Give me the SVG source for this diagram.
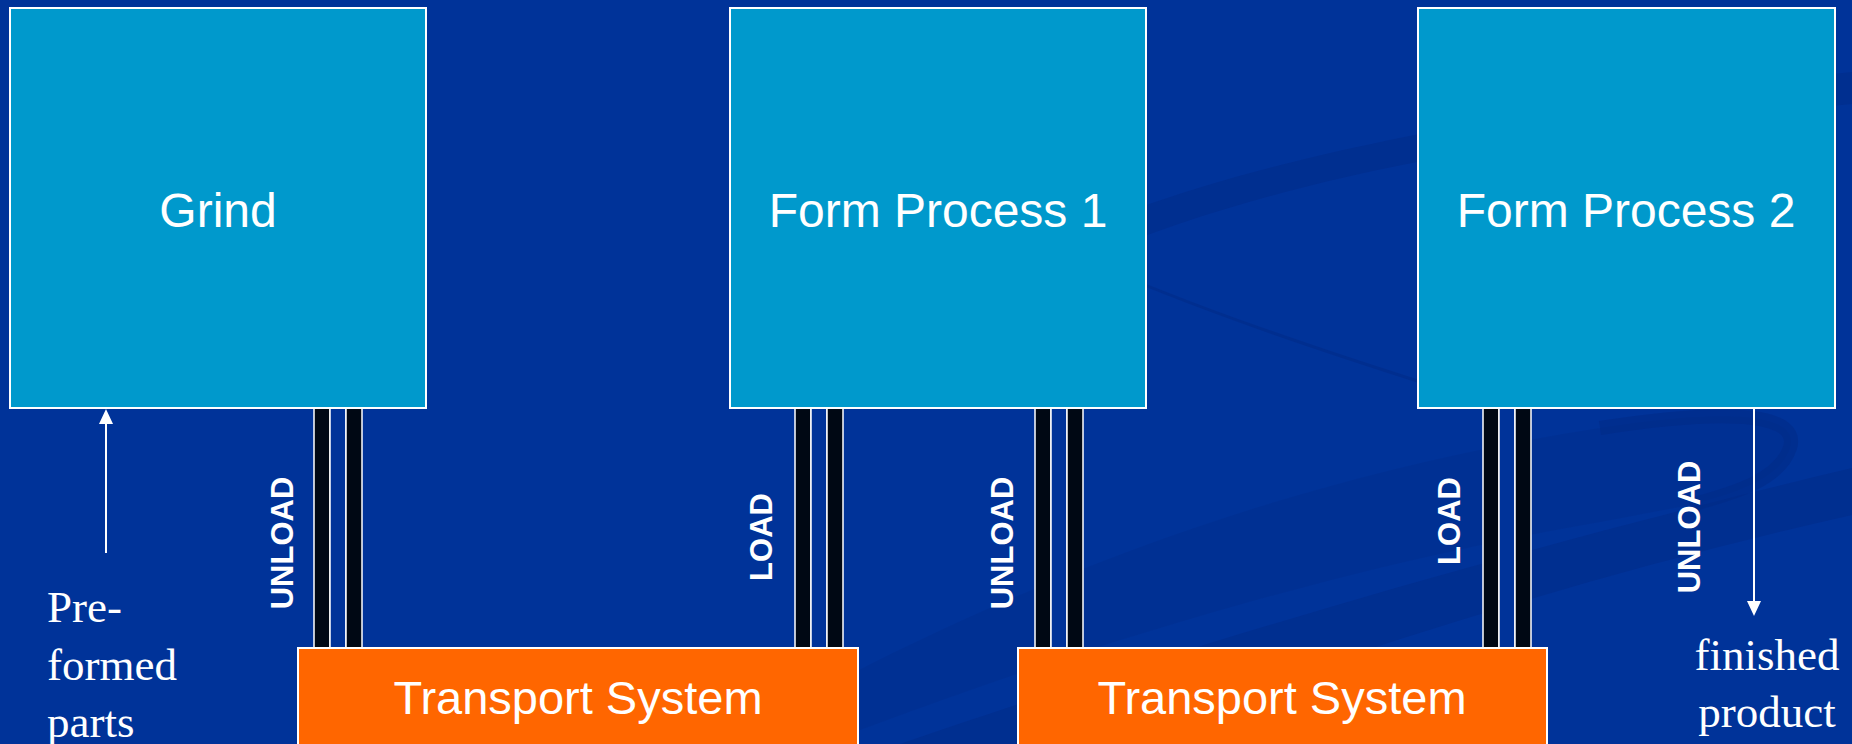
<svg xmlns="http://www.w3.org/2000/svg" width="1852" height="744" viewBox="0 0 1852 744">
  <defs>
    <style>
      .station { fill: #0099CC; stroke: #FFFFFF; stroke-width: 2; }
      .transport { fill: #FF6600; stroke: #FFFFFF; stroke-width: 2; }
      .rail { fill: #000814; stroke: #FFFFFF; stroke-width: 1.5; }
      .gap { fill: #003399; stroke: #FFFFFF; stroke-width: 1.5; }
      .label { font-family: "Liberation Sans", Arial, sans-serif; fill: #FFFFFF; text-anchor: middle; }
      .big { font-size: 48px; }
      .tag { font-family: "Liberation Sans", Arial, sans-serif; font-weight: bold; font-size: 31px; fill: #FFFFFF; text-anchor: middle; }
      .note { font-family: "Liberation Serif", "Times New Roman", serif; font-size: 45px; fill: #FFFFFF; }
      .flow { stroke: #FFFFFF; stroke-width: 2; fill: none; }
      .swoosh { fill: #002a85; opacity: 0.45; }
      .swfaint { fill: #002a85; opacity: 0.28; }
      .swline { fill: none; stroke: #002a85; opacity: 0.5; }
    </style>
    <!-- one load/unload chute: two dark rails with a gap between -->
    <g id="chute">
      <rect class="rail" x="0" y="0" width="16" height="240"/>
      <rect class="gap" x="16" y="0" width="16" height="240"/>
      <rect class="rail" x="32" y="0" width="16" height="240"/>
    </g>
  </defs>

  <!-- slide background with faint ribbons -->
  <rect x="0" y="0" width="1852" height="744" fill="#003399"/>
  <g id="background">
    <path class="swoosh" d="M1000,270 C1150,185 1400,120 1852,72 L1852,104 C1450,140 1200,195 1000,300 Z"/>
    <path class="swline" stroke-width="3" d="M1090,262 C1200,310 1320,350 1430,385"/>
    <path class="swfaint" d="M820,690 C1050,570 1300,475 1600,428 C1740,406 1800,416 1790,448 C1780,478 1740,492 1690,505 L1600,522 C1350,565 1100,640 860,730 Z"/>
    <path class="swline" stroke-width="14" d="M1600,428 C1740,406 1800,416 1790,448 C1780,478 1740,492 1690,505"/>
    <path class="swoosh" d="M900,744 C1200,640 1550,540 1852,468 L1852,515 C1600,572 1350,650 1100,744 Z"/>
  </g>

  <!-- chutes between stations and transport -->
  <g id="connectors">
    <use href="#chute" x="314" y="408"/>
    <use href="#chute" x="795" y="408"/>
    <use href="#chute" x="1035" y="408"/>
    <use href="#chute" x="1483" y="408"/>
    <!-- parts in -->
    <line class="flow" x1="106" y1="553" x2="106" y2="422"/>
    <polygon points="106,409 99,424 113,424" fill="#FFFFFF"/>
    <!-- product out -->
    <line class="flow" x1="1754" y1="409" x2="1754" y2="603"/>
    <polygon points="1754,616 1747,601 1761,601" fill="#FFFFFF"/>
    <text class="tag" transform="translate(293,543) rotate(-90)">UNLOAD</text>
    <text class="tag" transform="translate(772,537) rotate(-90)">LOAD</text>
    <text class="tag" transform="translate(1013,543) rotate(-90)">UNLOAD</text>
    <text class="tag" transform="translate(1460,521) rotate(-90)">LOAD</text>
    <text class="tag" transform="translate(1700,527) rotate(-90)">UNLOAD</text>
  </g>

  <g id="grind">
    <rect class="station" x="10" y="8" width="416" height="400"/>
    <text class="label big" x="218" y="227">Grind</text>
  </g>
  <g id="form-process-1">
    <rect class="station" x="730" y="8" width="416" height="400"/>
    <text class="label big" x="938" y="227">Form Process 1</text>
  </g>
  <g id="form-process-2">
    <rect class="station" x="1418" y="8" width="417" height="400"/>
    <text class="label big" x="1626" y="227">Form Process 2</text>
  </g>
  <g id="transport-1">
    <rect class="transport" x="298" y="648" width="560" height="100"/>
    <text class="label" font-size="47" x="578" y="714">Transport System</text>
  </g>
  <g id="transport-2">
    <rect class="transport" x="1018" y="648" width="529" height="100"/>
    <text class="label" font-size="47" x="1282" y="714">Transport System</text>
  </g>

  <g id="input-note">
    <text class="note" x="47" y="622">Pre-</text>
    <text class="note" x="47" y="680">formed</text>
    <text class="note" x="47" y="737">parts</text>
  </g>
  <g id="output-note">
    <text class="note" x="1767" y="670" text-anchor="middle">finished</text>
    <text class="note" x="1767" y="727" text-anchor="middle">product</text>
  </g>
</svg>
